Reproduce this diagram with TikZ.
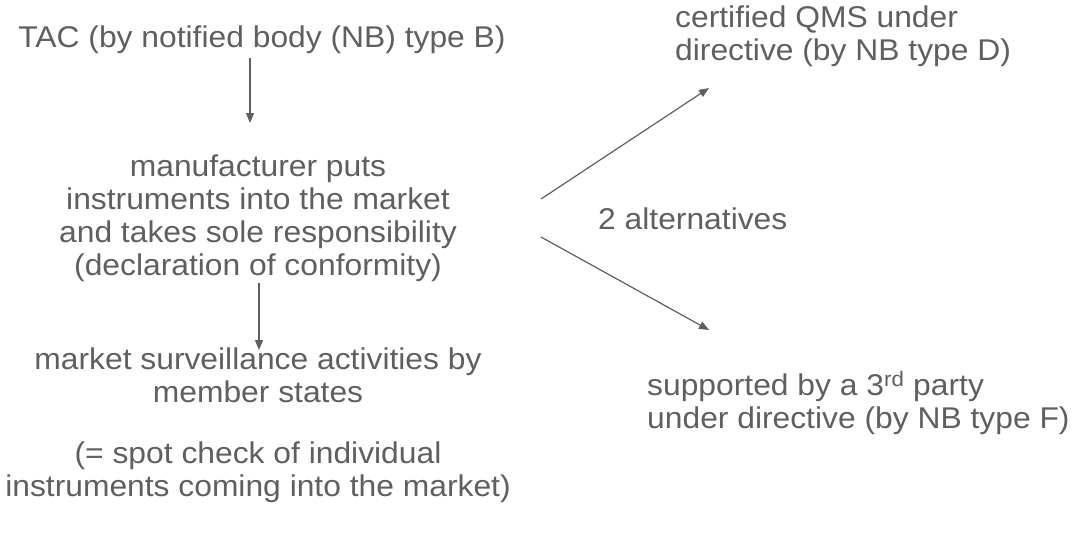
\documentclass[tikz,border=0pt]{standalone}
\usepackage{fontspec}
\setmainfont{Liberation Sans}[FakeStretch=1.06]
\usetikzlibrary{arrows.meta}
\definecolor{txtgray}{HTML}{5F5F5F}
\tikzset{
  lbl/.style={inner sep=0pt, text=txtgray, font=\fontsize{30}{33}\selectfont},
  lblc/.style={lbl, align=center},
  lbll/.style={lbl, align=left, anchor=west},
  arr/.style={draw=txtgray, line width=1.2pt, -{Triangle[length=10pt,width=8pt]}}
}
\begin{document}
\begin{tikzpicture}[x=1pt,y=-1pt]
\useasboundingbox (0,0) rectangle (1092,533);
\node[lblc] (tac) at (262,40) {TAC (by notified body (NB) type B)};
\node[lblc] (manu) at (258,218) {manufacturer puts\\instruments into the market\\and takes sole responsibility\\(declaration of conformity)};
\node[lblc] (surv) at (258,375) {market surveillance activities by\\member states};
\node[lblc] (spot) at (258,472) {(= spot check of individual\\instruments coming into the market)};
\node[lbll] (qms) at (675,36) {certified QMS under\\directive (by NB type D)};
\node[lbll] (alt) at (598,219) {2 alternatives};
\node[lbll] (third) at (647,403) {supported by a 3\textsuperscript{rd} party\\under directive (by NB type F)};
\coordinate (a1s) at (250,58);
\coordinate (a1e) at (250,123);
\coordinate (a2s) at (259,283);
\coordinate (a2e) at (259,350);
\coordinate (a3s) at (541,199);
\coordinate (a3e) at (709,88);
\coordinate (a4s) at (541,237);
\coordinate (a4e) at (709,330);
\draw[arr] (a1s) -- (a1e);
\draw[arr] (a2s) -- (a2e);
\draw[arr] (a3s) -- (a3e);
\draw[arr] (a4s) -- (a4e);
\end{tikzpicture}
\end{document}
